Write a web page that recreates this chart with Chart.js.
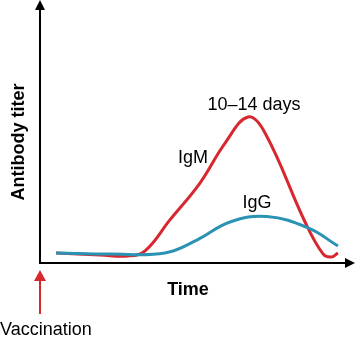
<!DOCTYPE html>
<html>
<head>
<meta charset="utf-8">
<script src="https://cdn.jsdelivr.net/npm/chart.js@4"></script>
<style>
  html, body { margin: 0; padding: 0; background: #fff; }
  canvas { display: block; }
</style>
</head>
<body>
<canvas id="graficoTiter" width="355" height="341"></canvas>
<script>
// tempo (0-100) e titulo de anticorpos (0-100)
const tempoIgM = [5.2, 19.4, 28.4, 33.9, 41.9, 51.6, 59.7, 67.1, 72.6, 85.5, 91.3, 93.9, 96.1];
const titerIgM = [3.9, 3.1, 2.7, 4.7, 16.7, 31.0, 46.5, 56.6, 50.4, 15.9, 3.5, 2.3, 3.9];

const tempoIgG = [5.2, 22.6, 40.3, 50.6, 61.3, 73.2, 86.5, 96.1];
const titerIgG = [3.9, 3.5, 3.9, 8.9, 15.9, 18.0, 13.6, 6.6];

const rotulos = {
  eixoX: "Time",
  eixoY: "Antibody titer",
  pico: "10–14 days",
  igm: "IgM",
  igg: "IgG",
  vacina: "Vaccination",
};

const FONTE = '"Liberation Sans", Arial, Helvetica, sans-serif';

function pontos(xs, ys) {
  return xs.map((x, i) => ({ x: x, y: ys[i] }));
}

// desenha eixos com setas e os textos
const eixosPlugin = {
  id: "eixos",
  afterDraw(chart) {
    const ctx = chart.ctx;
    const area = chart.chartArea;
    const x0 = area.left;
    const y0 = area.bottom;

    ctx.save();
    ctx.strokeStyle = "#000";
    ctx.fillStyle = "#000";
    ctx.lineWidth = 2;

    // eixo Y
    ctx.beginPath();
    ctx.moveTo(x0, y0);
    ctx.lineTo(x0, 8);
    ctx.stroke();
    ctx.beginPath();
    ctx.moveTo(x0, 0);
    ctx.lineTo(x0 - 5, 10);
    ctx.lineTo(x0 + 5, 10);
    ctx.closePath();
    ctx.fill();

    // eixo X
    ctx.beginPath();
    ctx.moveTo(x0 - 1, y0);
    ctx.lineTo(346, y0);
    ctx.stroke();
    ctx.beginPath();
    ctx.moveTo(355, y0);
    ctx.lineTo(345, y0 - 5);
    ctx.lineTo(345, y0 + 5);
    ctx.closePath();
    ctx.fill();

    // seta da vacinacao
    ctx.strokeStyle = "#d7282f";
    ctx.fillStyle = "#d7282f";
    ctx.beginPath();
    ctx.moveTo(x0, 314);
    ctx.lineTo(x0, 278);
    ctx.stroke();
    ctx.beginPath();
    ctx.moveTo(x0, 270);
    ctx.lineTo(x0 - 6, 281);
    ctx.lineTo(x0 + 6, 281);
    ctx.closePath();
    ctx.fill();

    // textos
    ctx.fillStyle = "#000";
    ctx.textBaseline = "alphabetic";
    ctx.textAlign = "center";
    ctx.font = "bold 18px " + FONTE;
    ctx.fillText(rotulos.eixoX, 188, 295);

    ctx.save();
    ctx.translate(24, 142);
    ctx.rotate(-Math.PI / 2);
    ctx.fillText(rotulos.eixoY, 0, 0);
    ctx.restore();

    ctx.font = "18px " + FONTE;
    ctx.fillText(rotulos.pico, 254, 110);
    ctx.fillText(rotulos.igm, 193, 163);
    ctx.fillText(rotulos.igg, 257, 208);
    ctx.textAlign = "left";
    ctx.fillText(rotulos.vacina, 0, 335);

    ctx.restore();
  },
};

new Chart(document.getElementById("graficoTiter"), {
  type: "line",
  data: {
    datasets: [
      {
        label: rotulos.igg,
        data: pontos(tempoIgG, titerIgG),
        borderColor: "#2a93b3",
        borderWidth: 3,
        pointRadius: 0,
        tension: 0.4,
        order: 0,
      },
      {
        label: rotulos.igm,
        data: pontos(tempoIgM, titerIgM),
        borderColor: "#d7282f",
        borderWidth: 3,
        pointRadius: 0,
        tension: 0.4,
        order: 1,
      },
    ],
  },
  options: {
    responsive: false,
    animation: false,
    devicePixelRatio: 1,
    layout: { padding: { left: 40, right: 5, top: 5, bottom: 78 } },
    plugins: { legend: { display: false }, tooltip: { enabled: false } },
    scales: {
      x: { type: "linear", min: 0, max: 100, display: false },
      y: { min: 0, max: 100, display: false },
    },
  },
  plugins: [eixosPlugin],
});
</script>
</body>
</html>
